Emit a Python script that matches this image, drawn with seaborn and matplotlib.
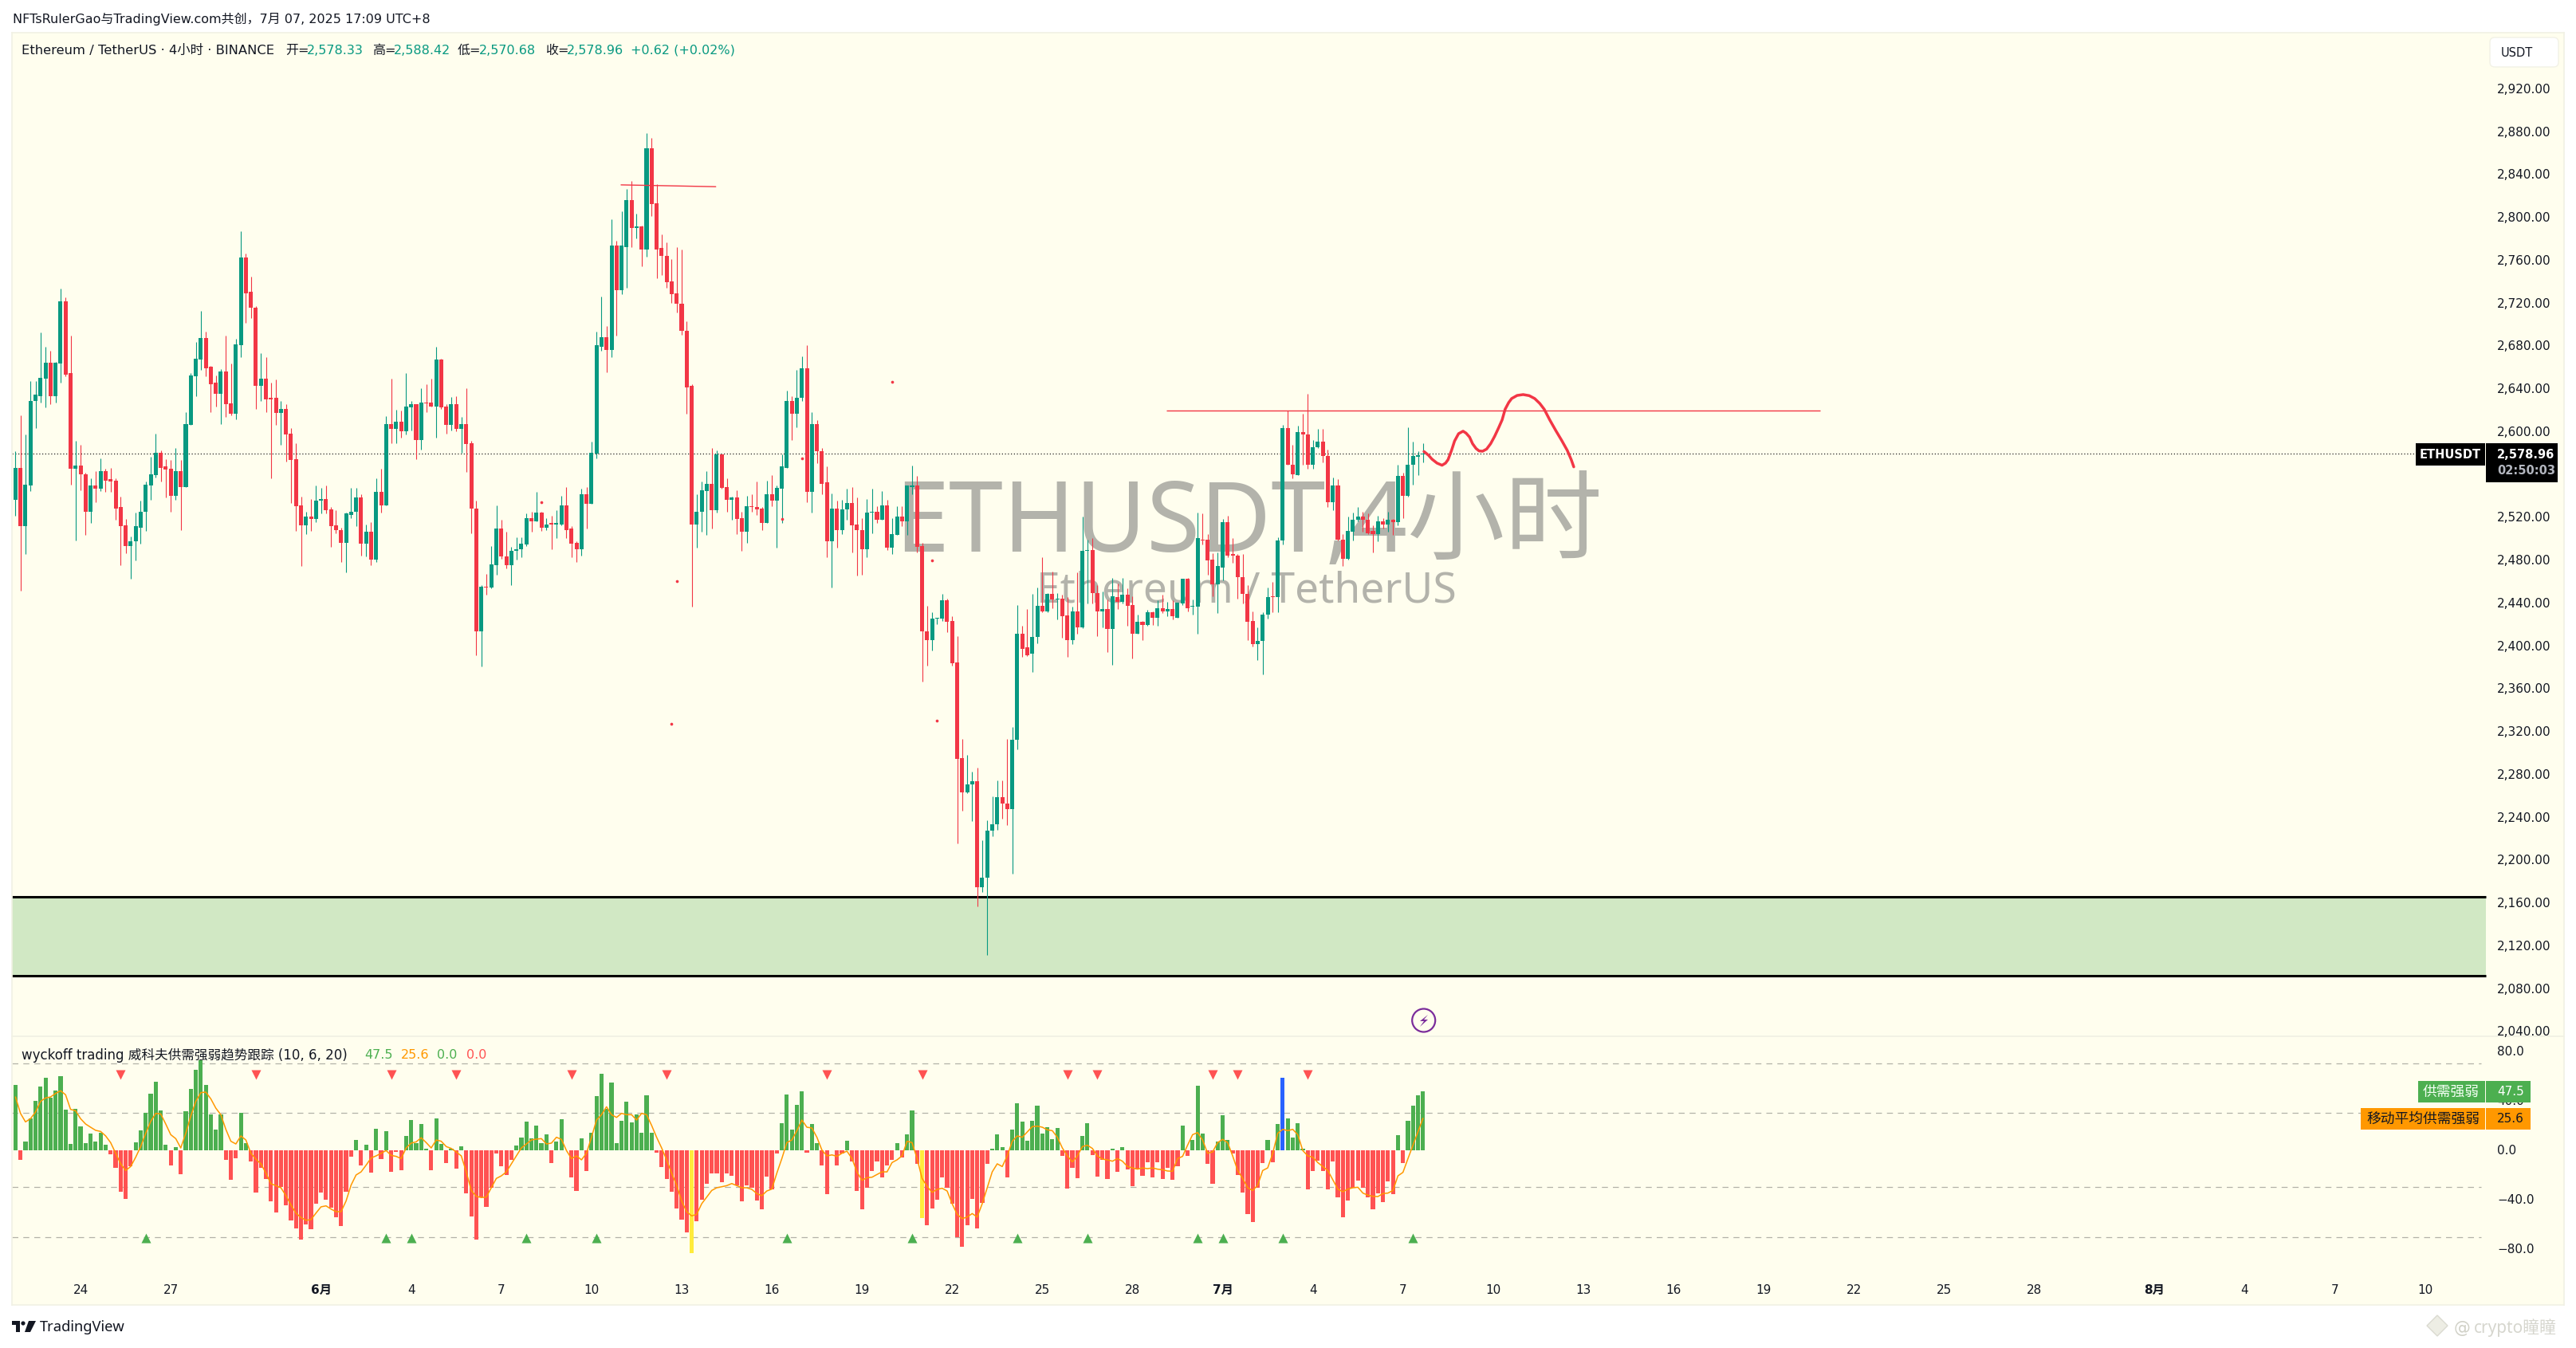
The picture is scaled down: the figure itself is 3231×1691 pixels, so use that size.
import numpy as np
import pandas as pd
import matplotlib
matplotlib.use("Agg")
import matplotlib.pyplot as plt
from matplotlib.patches import Circle, Polygon, Rectangle, FancyBboxPatch
from matplotlib.transforms import IdentityTransform
import seaborn as sns

W, H = 3231, 1691

# ---- candles, 4h ETHUSDT
opens = [2536,2566,2511,2549,2628,2633,2649,2664,2633,2663,
2721,2654,2565,2568,2560,2525,2549,2546,2563,2555,
2554,2529,2512,2493,2497,2510,2525,2549,2559,2580,
2567,2565,2540,2563,2548,2606,2651,2667,2687,2660,
2645,2635,2656,2626,2616,2680,2762,2730,2715,2642,
2649,2631,2631,2617,2621,2598,2574,2531,2512,2520,
2518,2535,2537,2527,2512,2508,2496,2522,2525,2538,
2495,2506,2480,2543,2531,2607,2602,2609,2600,2622,
2625,2592,2627,2627,2623,2667,2623,2606,2625,2602,
2607,2589,2528,2413,2455,2454,2475,2509,2483,2475,
2488,2490,2494,2519,2516,2524,2510,2514,2513,2513,
2531,2509,2496,2490,2541,2532,2579,2679,2688,2676,
2773,2732,2772,2816,2790,2791,2770,2864,2813,2771,
2764,2740,2729,2719,2694,2642,2513,2525,2544,2551,
2526,2578,2548,2536,2538,2519,2506,2530,2529,2528,
2514,2541,2535,2546,2566,2628,2616,2631,2659,2543,
2607,2581,2552,2497,2528,2508,2527,2533,2513,2508,
2490,2524,2525,2517,2531,2491,2503,2520,2516,2548,
2549,2493,2413,2405,2425,2425,2442,2423,2384,2295,
2263,2270,2273,2174,2183,2227,2233,2258,2252,2247,
2312,2411,2398,2392,2408,2437,2432,2448,2443,2444,
2428,2405,2432,2417,2488,2489,2449,2432,2434,2415,
2445,2441,2447,2438,2411,2422,2419,2431,2426,2435,
2432,2434,2426,2439,2462,2436,2436,2499,2499,2480,
2457,2473,2515,2485,2484,2464,2448,2423,2401,2404,
2429,2445.5,2445,2498,2603,2569,2559,2599,2597,2569,
2585,2590,2577,2534,2549,2499,2481,2506,2517,2520,
2517,2507,2504,2516,2513,2517,2515,2558,2540,2569,
2576.4,2578.33]
highs = [2581,2615,2597,2647,2647,2692,2679,2675,2665,2733,
2725,2689,2591,2587,2561,2556,2563,2575,2565,2566,
2556,2539,2518,2502,2524,2535,2553,2576,2598,2582,
2574,2573,2584,2573,2618,2654,2683,2712,2693,2661,
2652,2658,2689,2663,2686,2787,2766,2744,2717,2673,
2669,2645,2648,2628,2625,2603,2589,2539,2525,2537,
2549,2547,2549,2529,2526,2510,2524,2547,2547,2541,
2513,2515,2556,2565,2614,2649,2620,2619,2654,2628,
2625,2640,2644,2649,2679,2668,2625,2632,2633,2613,
2640,2591,2535,2456,2467,2493,2531,2517,2506,2492,
2501,2501,2523,2525,2543,2525,2519,2521,2526,2540,
2548,2511,2497,2546,2548,2590,2693,2726,2698,2798,
2778,2805,2826,2834,2803,2792,2878,2874,2831,2784,
2776,2761,2772,2770,2703,2644,2541,2553,2563,2584,
2582,2578,2556,2539,2545,2525,2540,2541,2553,2529,
2554,2559,2549,2578,2638,2633,2657,2670,2680,2618,
2610,2584,2567,2542,2535,2536,2546,2548,2538,2519,
2537,2546,2530,2544,2536,2519,2530,2530,2549,2568,
2558,2496,2437,2431,2426,2448,2444,2427,2409,2313,
2298,2282,2286,2218,2237,2259,2274,2274,2313,2324,
2438,2418,2434,2448,2454,2482,2449,2469,2449,2447,
2445,2436,2468,2520,2499,2500,2456,2450,2443,2463,
2458,2463,2453,2446,2429,2423,2433,2432,2442,2447,
2441,2442,2440,2462,2463,2443,2524,2523,2504,2486,
2487,2518,2521,2500,2485,2485,2456,2432,2417,2431,
2454,2459,2501,2606,2619,2587,2605,2616,2635,2592,
2602,2602,2583,2557,2555,2504,2520,2524,2529,2525,
2523,2512,2521,2519,2525,2518,2569,2561,2604,2590,
2581,2588.42]
lows = [2521,2451,2485,2544,2603,2627,2622,2625,2627,2645,
2651,2550,2498,2545,2503,2514,2534,2544,2543,2543,
2517,2475,2486,2462,2479,2495,2507,2536,2557,2553,
2538,2525,2536,2508,2548,2606,2633,2657,2651,2618,
2623,2607,2613,2615,2611,2669,2701,2706,2621,2628,
2618,2556,2606,2587,2572,2533,2507,2474,2504,2507,
2515,2523,2523,2492,2505,2478,2468,2519,2511,2484,
2483,2475,2478,2524,2531,2589,2589,2594,2597,2601,
2574,2583,2618,2623,2594,2621,2598,2601,2600,2580,
2562,2505,2391,2380,2447,2453,2466,2481,2472,2456,
2480,2482,2493,2506,2516,2507,2508,2490,2500,2512,
2500,2482,2478,2484,2509,2532,2575,2675,2655,2669,
2689,2728,2734,2772,2780,2754,2763,2801,2743,2746,
2734,2720,2711,2690,2616,2436,2491,2506,2503,2509,
2524,2546,2525,2517,2504,2488,2496,2525,2522,2508,
2514,2530,2491,2514,2566,2592,2604,2628,2534,2524,
2570,2541,2482,2454,2491,2504,2517,2487,2465,2466,
2482,2505,2514,2517,2489,2485,2503,2511,2503,2541,
2487,2366,2381,2395,2420,2423,2412,2381,2215,2246,
2262,2236,2156,2170,2111,2222,2228,2238,2232,2187,
2303,2389,2390,2375,2402,2431,2431,2435,2424,2407,
2389,2401,2411,2416,2439,2439,2409,2417,2394,2382,
2434,2439,2418,2388,2411,2405,2418,2419,2418,2430,
2427,2424,2426,2438,2432,2429,2411,2494,2466,2446,
2430,2461,2482,2477,2444,2439,2405,2399,2386,2373,
2425,2431,2431,2494,2569,2556,2559,2569,2565,2565,
2584,2571,2529,2526,2498,2474,2480,2498,2516,2506,
2504,2487,2497,2509,2506,2503,2512,2519,2539,2550,
2559,2570.68]
closes = [2566,2511,2550,2628,2634,2650,2664,2633,2664,2721,
2653,2565,2568,2560,2525,2549,2546,2563,2554,2553,
2528,2511,2493,2497,2511,2525,2550,2560,2580,2566,
2564,2540,2563,2548,2607,2652,2668,2687,2659,2644,
2635,2656,2625,2616,2681,2762,2729,2715,2642,2649,
2630,2630,2617,2621,2597,2573,2530,2512,2520,2518,
2535,2537,2526,2511,2508,2496,2523,2525,2538,2495,
2506,2480,2543,2531,2607,2602,2609,2600,2623,2625,
2592,2627,2626,2623,2667,2622,2606,2625,2602,2607,
2588,2528,2413,2455,2454,2476,2509,2483,2475,2488,
2490,2495,2519,2516,2524,2510,2513,2513,2514,2531,
2508,2495,2490,2541,2532,2580,2680,2688,2676,2773,
2732,2773,2816,2790,2791,2770,2864,2812,2770,2764,
2739,2728,2719,2694,2641,2513,2525,2545,2551,2526,
2578,2547,2536,2538,2518,2506,2530,2529,2527,2514,
2541,2535,2547,2567,2628,2616,2631,2659,2543,2607,
2581,2551,2497,2528,2508,2527,2533,2512,2508,2490,
2524,2525,2517,2531,2491,2504,2520,2516,2549,2549,
2492,2413,2405,2425,2426,2442,2422,2383,2294,2263,
2270,2273,2174,2183,2227,2233,2258,2252,2247,2312,
2411,2397,2391,2408,2437,2432,2448,2443,2444,2427,
2405,2432,2417,2488,2489,2449,2432,2434,2415,2446,
2441,2447,2437,2411,2422,2419,2431,2426,2435,2432,
2434,2427,2440,2462,2435,2437,2500,2498,2479,2457,
2474,2515,2484,2484,2464,2448,2422,2401,2404,2429,
2445,2445,2498,2603,2569,2560,2599,2597,2569,2585,
2590,2577,2534,2549,2499,2481,2507,2517,2520,2517,
2505,2504,2516,2513,2517,2515,2558,2540,2569,2577,
2577.4,2578.96]

# ---- wyckoff supply/demand indicator
strength = [52.5,-7.9,6.6,25.3,39.6,51.2,58.3,42.4,48,59.3,
32.6,4.9,33.2,19.1,5.6,13.3,6.9,13.9,4.3,-3.2,
-14.4,-33.6,-39.4,-13.3,6,15.9,29.8,45.4,55.1,31.9,
4.3,-12.4,2.4,-19.5,31.3,49.3,64.7,72.4,52.5,28.9,
16.7,28.9,-7.9,-24,-6.6,29.8,5.6,-9.2,-34.3,-14.4,
-23.4,-41.3,-50.3,-29.8,-44.6,-56.8,-63.2,-72.2,-60,-63.8,
-43.3,-34.3,-40.1,-46.5,-54.2,-61.3,-33.6,-5.4,8.1,-12.4,
4.3,-18.2,17.1,-7.3,15.2,-17.6,-1.5,-16.3,11.4,24.2,
5.6,21,1.1,-16.3,25.5,4.9,-10.5,1.3,-15,3,
-34.9,-53.6,-72.2,-38.1,-45.8,-30.4,-2.8,-13.1,-20.1,-7.9,
3.6,10.1,22.9,9.4,19.7,5.6,12.6,-10.5,6.9,24.9,
-0.4,-22.1,-33,9.4,-16.9,13.9,43.5,61.5,33.2,54.4,
5.6,23.6,39,22.3,28.7,13.9,44.1,13.9,-2.1,-13.7,
-23.4,-33.6,-47.1,-56.1,-66.4,-83.1,-57.4,-40.1,-27.2,-18.9,
-18.6,-25.9,-18.6,-20.8,-28.3,-41.1,-28.3,-30.4,-40.7,-47.6,
-21.4,-31.9,-2.6,21.6,44.8,16.5,36.4,47.3,-2.1,21,
5.6,-12.4,-35.6,-0.4,-12.4,-2.6,7.5,-9,-33,-47.8,
-30.4,-16.9,-9,-21.9,-12.4,-7.9,5.6,-6,12.6,31.9,
-11.1,-54.8,-60.6,-47.1,-40.1,-21.9,-30.4,-43.3,-70.3,-78,
-60.6,-39.4,-63.2,-42.6,-11.1,1.1,12.6,2.4,-22.1,16.5,
37.7,22.9,7.5,23.6,35.8,13.3,18.4,8.8,17.8,-4.7,
-31.1,-14.4,-22.7,11.4,21.6,-4,-21.4,-7.9,-23.4,1.1,
-17.6,2.4,-15.4,-29.1,-15.6,-20.8,-10.1,-22.1,-10.1,-23.4,
-14.4,-24,-13.3,19.7,-4.7,8.1,51.8,13.3,-11.1,-27.2,
6.9,28.1,8.1,-2.8,-20.1,-34.3,-51.6,-58.1,-30.4,-10.5,
8.1,-9.9,21,58.3,25.5,10.1,21.6,1.1,-31.7,-16.9,
-8.6,-16.9,-31.7,-9,-38.1,-54.2,-40.7,-30.4,-24.6,-30.4,
-38.1,-47.8,-34.7,-42,-25.3,-35.6,12,-10.5,23.6,35.8,
44.1,47.5]
strength_ma = [42.8,29.6,22.7,25.3,30.6,39.2,42,42.8,45.6,47.8,
44.6,32.8,31.7,25.3,21,18.4,15.9,15,11.4,6,
-2.6,-11.1,-16.5,-13.3,-5.8,2.8,13.5,23.1,29.6,29.1,
21,12.4,9.2,1.7,13.5,27.4,39.2,46.3,46.7,41.3,
33.8,28.5,16.7,7.1,4.9,11.4,8.1,-2.6,-7.3,-11.1,
-18.6,-27.2,-28.7,-30.4,-36.8,-44.3,-50.8,-54.4,-56.6,-56.1,
-50.8,-45.8,-45,-47.6,-49.7,-49.7,-41.1,-28.3,-20.1,-17.6,
-12.2,-6.4,-4.7,-2.6,-0.4,-4.3,-5.1,-6.9,1.7,5.6,
6.6,9.9,6,1.7,8.1,7.1,2.8,1.3,-1.5,-4.7,
-17.6,-32.6,-37.3,-38.3,-37.9,-30.4,-22.9,-20.8,-17.6,-11.1,
-4.7,1.7,4.9,8.1,8.8,9.2,4.9,5.6,10.3,8.6,
-0.4,-6.9,-4.7,-7.9,-2.6,10.3,24.2,28.5,34.9,28.5,
26.3,29.6,28.5,28.5,24.2,29.6,28.5,19.9,10.3,1.7,
-7.9,-18.6,-28.3,-41.1,-49.7,-53.1,-51.8,-43.3,-37.9,-32.6,
-30.4,-29.6,-28.7,-27,-28.7,-30.4,-30.4,-31.7,-35.1,-36.8,
-33,-31.5,-18.6,-6.9,6,8.1,15.6,24.2,18.4,17.8,
10.3,0,-4.7,-3.9,-5.1,-2.6,-0.9,-6.9,-17.6,-24.4,
-22.3,-21.9,-19.7,-17.6,-17.6,-10.1,-7.9,-4.7,7.1,6,
-6.9,-22.9,-29.3,-34.1,-31.7,-30.8,-33,-43.3,-51.8,-55.3,
-54,-51.2,-54,-43.3,-30.4,-17.6,-11.1,-13.3,-4.7,7.1,
11.4,10.3,14.6,18.9,19.3,18.4,16.3,15.6,10.3,1.7,
-4.7,-9.6,-4.7,2.8,3.9,1.3,-4.7,-7.3,-7.9,-9,
-6.9,-9,-13.3,-14.4,-15.4,-14.4,-15,-14.4,-15.4,-15.9,
-16.9,-17.1,-6.9,-5.1,3.9,12.4,14.1,8.1,-2.6,-1.5,
6,8.6,6,-4.7,-16.5,-22.9,-30.4,-32.6,-28.3,-16.5,
-14.4,-2.6,13.5,16.7,15.6,16.7,12.4,-0.4,-4.7,-5.8,
-10.1,-13.3,-16.5,-24,-31.5,-33.6,-31.5,-30.4,-30,-34.7,
-36.4,-37.3,-37.5,-35.1,-34.7,-32.6,-20.8,-18,-6.9,3.9,
14.6,25.6]
sell_bars = [21,48,75,88,111,130,162,181,210,216,239,244,258]
buy_bars = [26,74,79,102,116,154,179,200,214,236,241,253,279]
yellow_bars = [135,181]
blue_bars = [253]

# ---- drawings on the price pane
sketch_bar = [281.2,282.1,282.8,283.8,284.8,285.5,286.0,286.7,287.3,288.1,289.0,289.6,290.3,290.9,291.6,292.2,292.9,293.7,
              294.5,295.3,296.1,296.8,297.4,298.1,298.7,299.8,301.0,302.2,303.3,304.3,305.2,306.3,307.5,308.7,309.8,310.6,311.1]
sketch_price = [2581,2577.6,2573.9,2570.2,2568.2,2570.2,2573.4,2582.1,2590.8,2597.7,2600,2598.2,2594.5,2588.3,2583.8,2581.6,2581.3,2583.3,
                2588.3,2595.2,2603.2,2610.6,2620.5,2626.7,2630.5,2633.4,2634.2,2633.2,2630.5,2626,2620.5,2610.6,2600.7,2591.3,2582.1,2573.4,2566.7]
dot_bar = [175,105,132,157,153,183,184,131]
dot_price = [2646,2534,2460,2575,2518,2479,2330,2327]

price_ticks = [2920,2880,2840,2800,2760,2720,2680,2640,2600,2520,2480,2440,2400,2360,2320,2280,2240,2200,2160,2120,2080,2040]
ind_ticks = [80,40,0,-40,-80]
date_bars = [13,31,61,79,97,115,133,151,169,187,205,223,241,259,277,295,313,331,349,367,385,403,427,445,463,481]
date_labels = ["24","27","6月","4","7","10","13","16","19","22","25","28","7月","4","7","10","13","16","19","22","25","28","8月","4","7","10"]

BG = "#FFFEEE"
UP = "#089981"
DOWN = "#F23645"
LATIN_CJK = ["DejaVu Sans", "Noto Sans CJK SC"]

sns.set_theme(style="white")
plt.rcParams["font.family"] = LATIN_CJK

fig = plt.figure(figsize=(W / 100, H / 100), dpi=100, facecolor="white")


def pane(top, bottom):
    a = fig.add_axes([15 / W, (H - bottom) / H, (3216 - 15) / W, (bottom - top) / H])
    a.set_facecolor(BG)
    for s in a.spines.values():
        s.set_color("#F1F1E4")
        s.set_linewidth(1.2)
    a.set_xticks([])
    a.set_yticks([])
    a.set_xlabel("")
    a.set_ylabel("")
    return a


def txt(x, y, s, size=11, color="#131722", **kw):
    kw.setdefault("va", "center")
    kw.setdefault("ha", "left")
    return fig.text(x / W, 1 - (y + 1.5) / H, s, fontsize=size, color=color, **kw)


def box(x0, y0, x1, y1, color, z=5):
    fig.add_artist(Rectangle((x0, H - y1), x1 - x0, y1 - y0, transform=IdentityTransform(),
                             facecolor=color, edgecolor="none", zorder=z))


ax = pane(41, 1300)
ax2 = pane(1300, 1637)
xlim = (-0.70, 508.8)
zone_end = 493.2

# price pane
bars = np.arange(len(closes))
df = pd.DataFrame({"bar": bars, "open": opens, "high": highs, "low": lows, "close": closes})
df["up"] = df["close"] >= df["open"]
df["color"] = np.where(df["up"], UP, DOWN)

ax.add_patch(Rectangle((xlim[0], 2091.6), zone_end - xlim[0], 2165.3 - 2091.6, facecolor="#D1E8C4", edgecolor="none", zorder=1))
ax.hlines([2165.3, 2091.6], xlim[0], zone_end, color="black", lw=2.2, zorder=2)

ax.text(1122 / W, 1 - 660 / H, "ETHUSDT,4小时", transform=fig.transFigure, fontsize=88, color="#B3B3AB",
        family=["Noto Sans", "Noto Sans CJK SC"], va="center", ha="left", zorder=1.5)
ax.text(1300 / W, 1 - 742 / H, "Ethereum / TetherUS", transform=fig.transFigure, fontsize=38.4, color="#B3B3AB",
        family=["Noto Sans", "Noto Sans CJK SC"], va="center", ha="left", zorder=1.5)

ax.hlines(2578.96, xlim[0], 480.5, color="#222222", lw=0.9, linestyles=(0, (1, 2)), zorder=2.5)
ax.vlines(df["bar"], df["low"], df["high"], colors=df["color"], lw=0.8, zorder=3)
ax.bar(df["bar"], (df["close"] - df["open"]).abs().clip(lower=0.8), bottom=df[["open", "close"]].min(axis=1),
       width=0.8, color=df["color"], linewidth=0, zorder=4)

ax.plot([120.9, 139.8], [2830, 2828.3], color=DOWN, lw=1.0, zorder=5)
ax.hlines(2619.3, 229.8, 360.3, color=DOWN, lw=1.0, zorder=5)
sns.lineplot(x=sketch_bar, y=sketch_price, sort=False, estimator=None, color=DOWN, lw=2.5, ax=ax, zorder=6)
sns.scatterplot(x=dot_bar, y=dot_price, color=DOWN, s=7, linewidth=0, ax=ax, zorder=6)
ax.set_xlim(xlim)
ax.set_ylim(2035, 2972.1)
ax.set_xlabel("")
ax.set_ylabel("")

# indicator pane
kind = np.where(np.array(strength) >= 0, "pos", "neg").astype(object)
kind[yellow_bars] = "yellow"
kind[blue_bars] = "blue"
df2 = pd.DataFrame({"bar": bars, "strength": strength, "ma": strength_ma, "kind": kind})
sns.barplot(data=df2, x="bar", y="strength", hue="kind", dodge=False, native_scale=True, width=0.82, saturation=1,
            palette={"pos": "#4CAF50", "neg": "#FF5252", "yellow": "#FFEB3B", "blue": "#2962FF"},
            linewidth=0, legend=False, ax=ax2, zorder=3)
ax2.hlines([70, 30, -30, -70], xlim[0], 492.2, color="#B2B2A8", lw=0.9, linestyles=(0, (6, 5)), zorder=2)
sns.lineplot(data=df2, x="bar", y="ma", color="#FF9800", lw=1.1, ax=ax2, zorder=4)
sns.scatterplot(x=sell_bars, y=[60.6] * len(sell_bars), marker="v", color="#FF5252", s=75, linewidth=0, ax=ax2, zorder=5)
sns.scatterplot(x=buy_bars, y=[-71] * len(buy_bars), marker="^", color="#4CAF50", s=75, linewidth=0, ax=ax2, zorder=5)
ax2.set_xlim(xlim)
ax2.set_ylim(-124.9, 91.7)
ax2.set_xticks([])
ax2.set_yticks([])
ax2.set_xlabel("")
ax2.set_ylabel("")

# top texts
txt(16, 22, "NFTsRulerGao与TradingView.com共创，7月 07, 2025 17:09 UTC+8", size=11.5)
txt(27, 62, "Ethereum / TetherUS · 4小时 · BINANCE", size=11.8)
for x, label, value in [(358, "开=", "2,578.33"), (467, "高=", "2,588.42"), (574, "低=", "2,570.68"), (684, "收=", "2,578.96")]:
    txt(x, 62, label, size=11.5)
    txt(x + 27, 62, value, size=11.5, color=UP)
txt(791, 62, "+0.62 (+0.02%)", size=11.5, color=UP)

# price scale
for p in price_ticks:
    y = 111 + (2920 - p) * 1.3435
    txt(3132, y, f"{p:,.2f}")
fig.add_artist(FancyBboxPatch((3127, H - 80), 78, 29, boxstyle="round,pad=4,rounding_size=6", transform=IdentityTransform(),
                              facecolor="white", edgecolor="#F2F2E6", lw=1))
txt(3137, 65, "USDT", size=10.5)
box(3030, 556, 3117, 584, "#000000")
txt(3073, 569, "ETHUSDT", color="white", ha="center", fontweight="bold", zorder=6, size=10.5)
box(3118, 556, 3208, 605, "#000000")
txt(3132, 569, "2,578.96", color="white", fontweight="bold", zorder=6, size=10.5)
txt(3132, 589, "02:50:03", color="#B2B5BE", fontweight="bold", zorder=6, size=10.5)

# lightning marker
fig.add_artist(Circle((1785.7, H - 1280), 14.5, transform=IdentityTransform(), facecolor="none", edgecolor="#7B2D9B", lw=1.6))
fig.add_artist(Polygon([(1791, H - 1273), (1781, H - 1281), (1786, H - 1281), (1781, H - 1288), (1791, H - 1279), (1786, H - 1279)],
                       transform=IdentityTransform(), facecolor="#7B2D9B", edgecolor="none"))

# indicator legend and scale
txt(27, 1322, "wyckoff trading 威科夫供需强弱趋势跟踪 (10, 6, 20)", size=12)
txt(457, 1322, "47.5", size=11.5, color="#4CAF50")
txt(503, 1322, "25.6", size=11.5, color="#FF9800")
txt(548, 1322, "0.0", size=11.5, color="#4CAF50")
txt(585, 1322, "0.0", size=11.5, color="#FF5252")
for v in ind_ticks:
    txt(3132, 1442 - v * 1.556, f"{v:.1f}".replace("-", "−"))
box(3033, 1356, 3117, 1383, "#4CAF50")
box(3118, 1356, 3174, 1383, "#4CAF50")
box(2961, 1390, 3117, 1417, "#FF9800")
box(3118, 1390, 3174, 1417, "#FF9800")
txt(3110, 1368, "供需强弱", color="#F4FFF4", ha="right", zorder=6, size=12.8, family=["Noto Sans CJK SC", "DejaVu Sans"])
txt(3132, 1368, "47.5", color="white", zorder=6)
txt(3110, 1402, "移动平均供需强弱", color="#131722", ha="right", zorder=6, size=12.8, family=["Noto Sans CJK SC", "DejaVu Sans"])
txt(3132, 1402, "25.6", color="#131722", zorder=6)

# time axis
for b, lab in zip(date_bars, date_labels):
    x = 19.4 + 6.283 * b
    txt(x, 1617, lab, ha="center", fontweight="bold" if lab.endswith("月") else "normal")

# footer
fig.add_artist(Polygon([(15, H - 1657), (25, H - 1657), (25, H - 1671), (20, H - 1671), (20, H - 1662), (15, H - 1662)],
                       transform=IdentityTransform(), facecolor="#131722", edgecolor="none"))
fig.add_artist(Circle((29, H - 1660), 2.6, transform=IdentityTransform(), facecolor="#131722", edgecolor="none"))
fig.add_artist(Polygon([(36, H - 1657), (45, H - 1657), (38, H - 1671), (31, H - 1671)],
                       transform=IdentityTransform(), facecolor="#131722", edgecolor="none"))
txt(50, 1664, "TradingView", size=13.2, family=["Noto Sans", "DejaVu Sans"])
fig.add_artist(Polygon([(3057, H - 1650), (3070, H - 1663), (3057, H - 1676), (3044, H - 1663)], transform=IdentityTransform(),
                       facecolor="#EDEDE4", edgecolor="#DADAD0", lw=1))
txt(3078, 1664, "@", size=15, color="#D0D0C6")
txt(3103, 1664, "crypto瞳瞳", size=15, color="#D6D6CE", family=["Noto Sans", "Noto Sans CJK SC"])

fig.savefig("out.png", dpi=100, facecolor="white")
